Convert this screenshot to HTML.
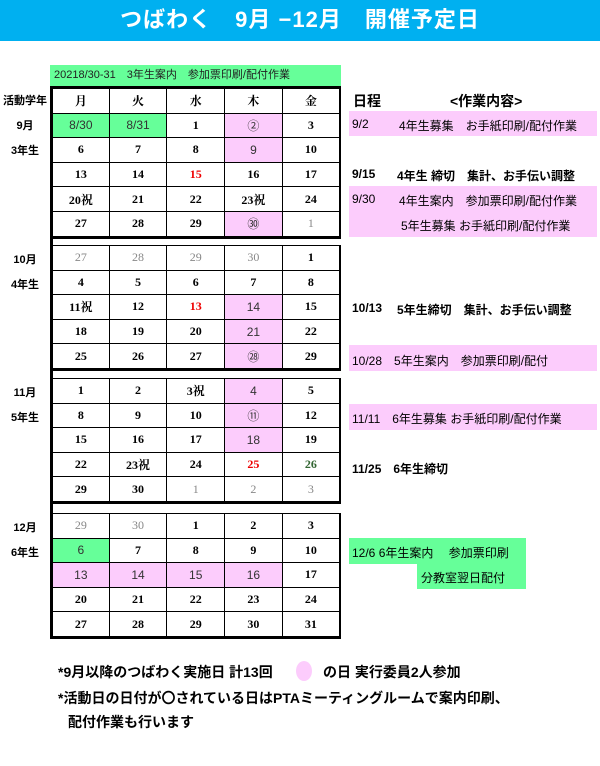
<!DOCTYPE html>
<html><head><meta charset="utf-8"><style>
body{margin:0;width:600px;height:766px;background:#fff;position:relative;overflow:hidden;font-family:"Liberation Sans","Noto Sans CJK JP",sans-serif;}
.a{position:absolute;}
.title{left:0;top:0;width:600px;height:41px;background:#00b0f0;color:#fff;font-size:22px;font-weight:bold;text-align:center;line-height:40px;letter-spacing:1px;}
table{position:absolute;left:50px;width:291px;box-sizing:border-box;border-collapse:collapse;table-layout:fixed;border-left:3px solid #000;border-right:2px solid #000;border-bottom:3px solid #000;}
td{height:23.6px;border:1px solid #000;text-align:center;font-weight:bold;font-size:12px;font-family:"Liberation Serif","Noto Serif CJK SC",serif;padding:0;}
.p{background:#fcccfc;font-weight:normal;font-family:"Liberation Sans","Noto Sans CJK JP",sans-serif;color:#333;}
.g{background:#66ff99;font-weight:normal;font-family:"Liberation Sans","Noto Sans CJK JP",sans-serif;color:#333;}
.o{color:#888;font-weight:normal;}
.r{color:#e00;}
.lab{left:0;width:50px;text-align:center;font-weight:bold;font-size:11px;}
.rt{left:352px;font-size:12px;}
.pk{background:#fcccfc;}
.gr{background:#66ff99;}
.b{font-weight:bold;}
</style></head><body>
<div class="a title">つばわく　9月 −12月　開催予定日</div>
<div class="a" style="left:50px;top:65px;width:291px;height:21px;background:#66ff99;font-size:11px;line-height:21px;padding-left:4px;box-sizing:border-box;color:#222">20218/30-31　3年生案内　参加票印刷/配付作業</div>
<div class="a" style="left:50px;top:236px;width:3px;height:277px;background:#000"></div>

<div class="a lab" style="top:92px">活動学年</div>
<div class="a lab" style="top:117px">9月</div>
<div class="a lab" style="top:142px">3年生</div>
<table style="top:86px;border-top:3px solid #000">
<tr><td>月</td><td>火</td><td>水</td><td>木</td><td>金</td></tr>
<tr><td class="g">8/30</td><td class="g">8/31</td><td>1</td><td class="p">②</td><td>3</td></tr>
<tr><td>6</td><td>7</td><td>8</td><td class="p">9</td><td>10</td></tr>
<tr><td>13</td><td>14</td><td class="r">15</td><td>16</td><td>17</td></tr>
<tr><td>20祝</td><td>21</td><td>22</td><td>23祝</td><td>24</td></tr>
<tr><td>27</td><td>28</td><td>29</td><td class="p">㉚</td><td class="o">1</td></tr>
</table>

<div class="a lab" style="top:251px">10月</div>
<div class="a lab" style="top:276px">4年生</div>
<table style="top:245px;border-top:1px solid #000">
<tr><td class="o">27</td><td class="o">28</td><td class="o">29</td><td class="o">30</td><td>1</td></tr>
<tr><td>4</td><td>5</td><td>6</td><td>7</td><td>8</td></tr>
<tr><td>11祝</td><td>12</td><td class="r">13</td><td class="p">14</td><td>15</td></tr>
<tr><td>18</td><td>19</td><td>20</td><td class="p">21</td><td>22</td></tr>
<tr><td>25</td><td>26</td><td>27</td><td class="p">㉘</td><td>29</td></tr>
</table>

<div class="a lab" style="top:384px">11月</div>
<div class="a lab" style="top:409px">5年生</div>
<table style="top:378px;border-top:1px solid #000">
<tr><td>1</td><td>2</td><td>3祝</td><td class="p">4</td><td>5</td></tr>
<tr><td>8</td><td>9</td><td>10</td><td class="p">⑪</td><td>12</td></tr>
<tr><td>15</td><td>16</td><td>17</td><td class="p">18</td><td>19</td></tr>
<tr><td>22</td><td>23祝</td><td>24</td><td class="r">25</td><td style="color:#363">26</td></tr>
<tr><td>29</td><td>30</td><td class="o">1</td><td class="o">2</td><td class="o">3</td></tr>
</table>

<div class="a lab" style="top:519px">12月</div>
<div class="a lab" style="top:544px">6年生</div>
<table style="top:513px;border-top:1px solid #000">
<tr><td class="o">29</td><td class="o">30</td><td>1</td><td>2</td><td>3</td></tr>
<tr><td class="g">6</td><td>7</td><td>8</td><td>9</td><td>10</td></tr>
<tr><td class="p">13</td><td class="p">14</td><td class="p">15</td><td class="p">16</td><td>17</td></tr>
<tr><td>20</td><td>21</td><td>22</td><td>23</td><td>24</td></tr>
<tr><td>27</td><td>28</td><td>29</td><td>30</td><td>31</td></tr>
</table>

<div class="a b" style="left:353px;top:91px;font-size:14px">日程</div>
<div class="a b" style="left:450px;top:91px;font-size:14px">&lt;作業内容&gt;</div>
<div class="a pk" style="left:349px;top:111px;width:248px;height:25px"></div>
<div class="a rt" style="top:117px">9/2</div><div class="a rt" style="left:399px;top:117px">4年生募集　お手紙印刷/配付作業</div>
<div class="a rt b" style="top:167px">9/15</div><div class="a rt b" style="left:397px;top:167px">4年生 締切　集計、お手伝い調整</div>
<div class="a pk" style="left:349px;top:186px;width:248px;height:51px"></div>
<div class="a rt" style="top:192px">9/30</div><div class="a rt" style="left:399px;top:192px">4年生案内　参加票印刷/配付作業</div>
<div class="a rt" style="left:401px;top:217px">5年生募集 お手紙印刷/配付作業</div>
<div class="a rt b" style="top:301px">10/13</div><div class="a rt b" style="left:397px;top:301px">5年生締切　集計、お手伝い調整</div>
<div class="a pk" style="left:349px;top:345px;width:248px;height:26px"></div>
<div class="a rt" style="top:352px">10/28　5年生案内　参加票印刷/配付</div>
<div class="a pk" style="left:349px;top:404px;width:248px;height:26px"></div>
<div class="a rt" style="top:410px">11/11　6年生募集 お手紙印刷/配付作業</div>
<div class="a rt b" style="top:460px">11/25　6年生締切</div>
<div class="a gr" style="left:349px;top:538px;width:177px;height:26px"></div>
<div class="a gr" style="left:417px;top:563px;width:109px;height:26px"></div>
<div class="a rt" style="top:544px">12/6 6年生案内　 参加票印刷</div>
<div class="a rt" style="left:421px;top:569px">分教室翌日配付</div>

<div class="a b" style="left:58px;top:662px;font-size:14px">*9月以降のつばわく実施日 計13回</div>
<div class="a" style="left:296px;top:661px;width:16px;height:20px;border-radius:50%;background:#fcccfc"></div>
<div class="a b" style="left:323px;top:662px;font-size:14px">の日 実行委員2人参加</div>
<div class="a b" style="left:58px;top:688px;font-size:14px">*活動日の日付が〇されている日はPTAミーティングルームで案内印刷、</div>
<div class="a b" style="left:68px;top:712px;font-size:14px">配付作業も行います</div>
</body></html>
